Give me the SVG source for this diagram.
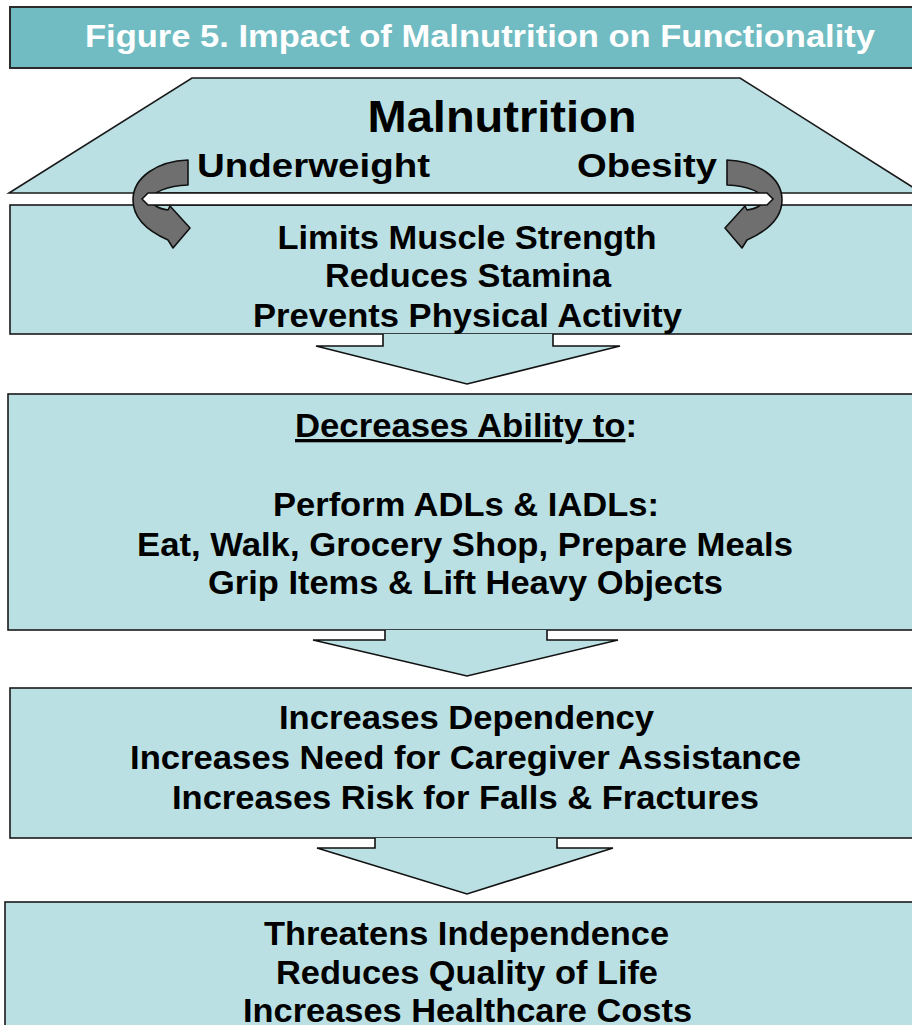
<svg xmlns="http://www.w3.org/2000/svg" width="912" height="1025" viewBox="0 0 912 1025">
  <style>
    .box { fill: #BAE0E4; stroke: #1a1a1a; stroke-width: 1.6; }
    .arrow { fill: #BAE0E4; stroke: #111; stroke-width: 1.6; stroke-linejoin: miter; }
    .curl { fill: #6f6f6f; stroke: #111; stroke-width: 1.6; stroke-linejoin: round; }
    .band { fill: #ffffff; stroke: #111; stroke-width: 1.6; }
    .t { font-family: "Liberation Sans", Arial, sans-serif; font-weight: bold; fill: #000; text-anchor: middle; }
    .body { font-size: 33px; }
    .title { font-size: 31px; fill: #ffffff; }
  </style>
  <defs>
    <!-- curved arrow sweeping left and down -->
    <path id="curl" d="M188,160 L188,185 C168,186 151,192 152,200 C153,206 160,209 168,210 L170,206 L190,228 L173,248 L168,240 C150,232 133,220 133,200 C133,177 158,161 188,160 Z"/>
  </defs>

  <rect width="912" height="1025" fill="#ffffff"/>

  <!-- heading bar -->
  <g id="title">
    <rect x="10" y="7" width="912" height="61" fill="#71BCC2" stroke="#2b2b2b" stroke-width="2"/>
    <text class="t title" x="480" y="47" textLength="790" lengthAdjust="spacingAndGlyphs">Figure 5. Impact of Malnutrition on Functionality</text>
  </g>

  <!-- top trapezoid -->
  <g id="malnutrition">
    <path class="box" d="M192,78 L740,78 L922,193 L9,193 Z"/>
    <text class="t" x="502" y="132" font-size="44" textLength="269" lengthAdjust="spacingAndGlyphs">Malnutrition</text>
    <text class="t" x="313.5" y="177" font-size="33" textLength="233" lengthAdjust="spacingAndGlyphs">Underweight</text>
    <text class="t" x="647" y="177" font-size="33" textLength="140" lengthAdjust="spacingAndGlyphs">Obesity</text>
  </g>

  <g id="box-effects">
    <rect class="box" x="10" y="205" width="912" height="129"/>
    <text class="t body" x="467" y="249" textLength="379" lengthAdjust="spacingAndGlyphs">Limits Muscle Strength</text>
    <text class="t body" x="468" y="287" textLength="286" lengthAdjust="spacingAndGlyphs">Reduces Stamina</text>
    <text class="t body" x="467.5" y="327" textLength="429" lengthAdjust="spacingAndGlyphs">Prevents Physical Activity</text>
  </g>

  <g id="box-ability">
    <rect class="box" x="8" y="394" width="914" height="236"/>
    <text class="t body" x="466" y="437" textLength="342" lengthAdjust="spacingAndGlyphs"><tspan text-decoration="underline">Decreases Ability to</tspan>:</text>
    <text class="t body" x="466" y="516" textLength="386" lengthAdjust="spacingAndGlyphs">Perform ADLs &amp; IADLs:</text>
    <text class="t body" x="465" y="556" textLength="656" lengthAdjust="spacingAndGlyphs">Eat, Walk, Grocery Shop, Prepare Meals</text>
    <text class="t body" x="465.5" y="594" textLength="515" lengthAdjust="spacingAndGlyphs">Grip Items &amp; Lift Heavy Objects</text>
  </g>

  <g id="box-dependency">
    <rect class="box" x="10" y="688" width="912" height="150"/>
    <text class="t body" x="466.5" y="729" textLength="375" lengthAdjust="spacingAndGlyphs">Increases Dependency</text>
    <text class="t body" x="465.5" y="769" textLength="671" lengthAdjust="spacingAndGlyphs">Increases Need for Caregiver Assistance</text>
    <text class="t body" x="465.5" y="809" textLength="587" lengthAdjust="spacingAndGlyphs">Increases Risk for Falls &amp; Fractures</text>
  </g>

  <g id="box-outcomes">
    <rect class="box" x="5" y="902" width="917" height="140"/>
    <text class="t body" x="466.5" y="945" textLength="405" lengthAdjust="spacingAndGlyphs">Threatens Independence</text>
    <text class="t body" x="467" y="984" textLength="382" lengthAdjust="spacingAndGlyphs">Reduces Quality of Life</text>
    <text class="t body" x="467.5" y="1022" textLength="449" lengthAdjust="spacingAndGlyphs">Increases Healthcare Costs</text>
  </g>

  <g id="connectors">
    <!-- curled arrows from the two conditions into the first box -->
    <use href="#curl" class="curl"/>
    <use href="#curl" class="curl" transform="translate(915,0) scale(-1,1)"/>
    <!-- gap between the trapezoid and the first box -->
    <path class="band" d="M142,199 L148,193 L767,193 L773,199 L767,205 L148,205 Z"/>
    <!-- block arrows between boxes -->
    <path class="arrow" d="M383,334 L383,346 L316,346 L467,384 L620,346 L553,346 L553,334"/>
    <path class="arrow" d="M385,630 L385,640 L313,640 L467,676 L618,640 L547,640 L547,630"/>
    <path class="arrow" d="M375,838 L375,848 L317,848 L467,894 L613,848 L557,848 L557,838"/>
  </g>
</svg>
